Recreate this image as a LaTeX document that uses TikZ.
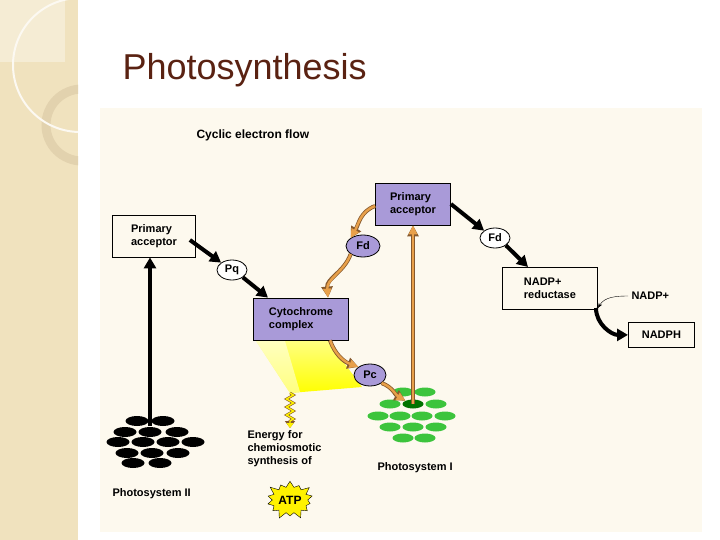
\documentclass[tikz,border=0pt]{standalone}
\usepackage{fontspec}
\setmainfont{Liberation Sans}
\usetikzlibrary{arrows.meta,shapes.geometric,shapes.symbols,shapes.misc,decorations.pathmorphing}
\definecolor{strip}{HTML}{F0E2BE}
\definecolor{ring}{HTML}{E2D2AE}
\definecolor{panel}{HTML}{FDF9EE}
\definecolor{purp}{HTML}{A99AD8}
\definecolor{orng}{HTML}{E8A04A}
\definecolor{grn}{HTML}{3CC43C}
\definecolor{titlec}{HTML}{5A2212}
\begin{document}
\begin{tikzpicture}[x=1pt,y=-1pt,
  lbl/.style={font=\bfseries\fontsize{11}{12.5}\selectfont,align=left},
  box/.style={draw,thick,lbl,minimum width=#1,minimum height=42pt,inner sep=2pt},
  pbox/.style={box=#1,fill=purp},
  ell/.style={ellipse,draw,thick,lbl,minimum width=32pt,minimum height=22pt,inner sep=0pt},
  blk/.style={-{Triangle[length=11pt,width=12pt]},line width=4pt},
  org/.style={-{Triangle[length=11pt,width=11pt]},draw=brown!70!black,line width=4pt,
     postaction={draw=orng,line width=2.4pt,-{Triangle[length=9pt,width=8pt]}}},
  bdot/.style={ellipse,fill=black,minimum width=23pt,minimum height=10pt,inner sep=0pt},
  gdot/.style={ellipse,fill=grn,minimum width=21pt,minimum height=9pt,inner sep=0pt}]
\useasboundingbox (0,0) rectangle (720,540);
\fill[white] (0,0) rectangle (720,540);
\fill[strip] (0,0) rectangle (78,540);
\fill[white,opacity=0.35] (0,0) rectangle (65,62);
\begin{scope}
\clip (0,0) rectangle (78,540);
\draw[ring,line width=9pt] (82,125) circle (36);
\draw[white!80!strip,line width=2pt] (80,65) circle (67);
\end{scope}
\node[anchor=base west,text=titlec,font=\fontsize{36}{40}\selectfont] (title) at (119,80) {Photosynthesis};
\fill[panel] (100,108) rectangle (702,532);
\node[lbl,anchor=west,font=\bfseries\fontsize{12}{13}\selectfont] (cef) at (193,135) {Cyclic electron flow};
% PSII
\foreach \x/\y [count=\i] in {137/421,163/421,125/432,150/432,177/432,118/442,143/442,168/442,193/442,127/453,152/453,178/453,133/463,160/463}
  \node[bdot] (b\i) at (\x,\y) {};
\node[lbl,anchor=west] (ps2) at (109,494) {Photosystem II};
\node[box=83pt] (pa1) at (154,236) {Primary\\acceptor};
\coordinate (ps2c) at (150,426);
\draw[blk] (ps2c) -- (pa1.south -| ps2c);
\node[ell,fill=white,minimum width=30pt,minimum height=20pt] (pq) at (232,270) {Pq};
\node[pbox=95pt] (cyt) at (301,319) {Cytochrome\\complex};
\draw[blk] (pa1.east) ++(-6,4) -- (pq.north west);
\draw[blk] (pq.south east) -- (cyt.north west -| 268,0);
% yellow light
\shade[top color=yellow!50!white,bottom color=yellow] (256,341) -- (328,341) -- (362,387) -- (290,393) -- cycle;
\fill[white,opacity=0.5] (256,341) -- (285,341) -- (300,392) -- (290,393) -- cycle;
\node[pbox=75pt] (pa2) at (413,204) {Primary\\acceptor};
\node[ell,fill=purp,minimum width=34pt] (fd1) at (363,246) {Fd};
\node[ell,fill=purp] (pc) at (370,375) {Pc};
% PSI
\foreach \x/\y [count=\i] in {403/392,425/392,390/404,436/404,378/416,400/416,422/416,445/416,390/427,413/427,436/427,403/438,425/438}
  \node[gdot] (g\i) at (\x,\y) {};
\node[gdot,fill=green!45!black] (gc) at (413,404) {};
\node[lbl,anchor=west] (ps1) at (374,468) {Photosystem I};
\draw[org] (pa2.west) ++(0,2) to[out=200,in=60] (fd1.north west);
\draw[org] (fd1.south west) to[out=250,in=95] (cyt.north -| 328,0);
\draw[org] (gc.center) -- (pa2.south);
\draw[org] (cyt.south -| 330,0) to[out=-70,in=160] (pc.north west);
\draw[org] (pc.south east) to[out=-20,in=150] (gc.north west);
% zigzag
\coordinate (z1) at (290,393);
\coordinate (z2) at (290,428);
\draw[draw=brown!70!black,line width=2.6pt,decorate,decoration={zigzag,amplitude=3.5pt,segment length=8pt,post length=7pt},-{Triangle[length=7pt,width=10pt]}] (z1) -- (z2);
\draw[yellow,line width=1.4pt,decorate,decoration={zigzag,amplitude=3.5pt,segment length=8pt,post length=7pt},-{Triangle[length=5pt,width=7pt]}] (z1) -- (z2);
\node[lbl,anchor=north west,font=\bfseries\fontsize{11}{13}\selectfont] (en) at (244,427) {Energy for\\chemiosmotic\\synthesis of};
\node[starburst,starburst points=14,starburst point height=8pt,draw,fill=yellow,font=\bfseries\fontsize{12}{13}\selectfont,minimum width=46pt,minimum height=42pt,inner sep=1pt] (atp) at (290,500) {ATP};
% right
\node[ell,fill=white,minimum width=30pt,minimum height=20pt] (fd2) at (495,238) {Fd};
\node[box=95pt,anchor=north west] (nr) at (502,267) {NADP+\\reductase};
\node[lbl,anchor=west] (nadp) at (628,296) {NADP+};
\node[draw,thick,lbl,minimum width=66pt,minimum height=25pt,anchor=north west] (nadph) at (628,322) {NADPH};
\draw[blk] (pa2.east) -- (fd2.north west);
\draw[blk] (fd2.south east) -- (nr.north west -| 528,0);
\draw[-{Stealth[length=5pt]},thin] (nadp.west) to[out=180,in=60] (598,308);
\draw[blk] (596,308) to[out=-90,in=180] (nadph.west);
\end{tikzpicture}
\end{document}
